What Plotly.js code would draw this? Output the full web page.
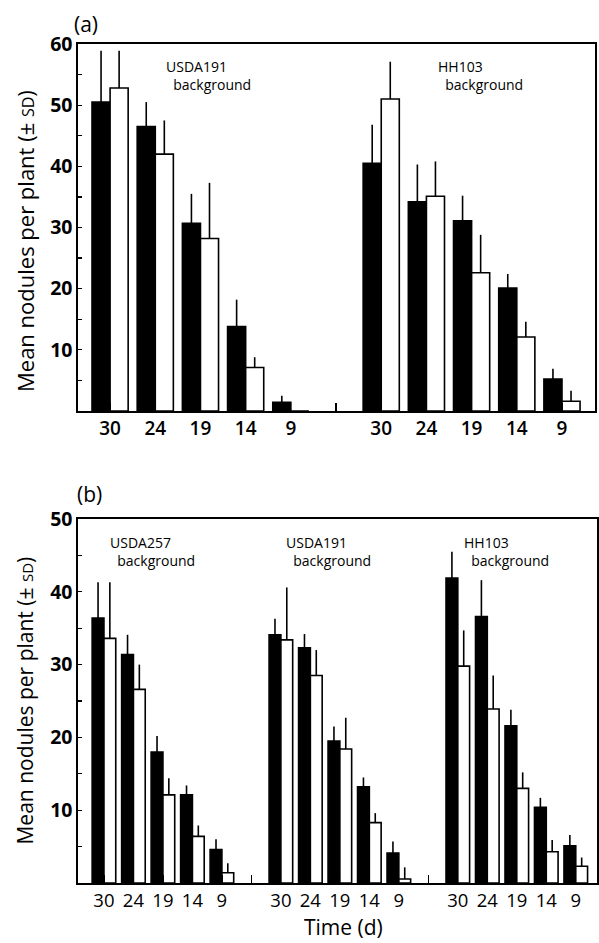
<!DOCTYPE html>
<html>
<head>
<meta charset="utf-8">
<script src="https://cdn.plot.ly/plotly-3.0.1.min.js"></script>
<style>html,body{margin:0;padding:0;background:#fff}</style>
</head>
<body>
<div id="chart" style="width:599px;height:943px"></div>
<script>
// ---- data ----
const times = [30, 24, 19, 14, 9];

// Panel (a)
const groupsA = ['USDA191', 'HH103'];
const aUSDA191Black   = [50.5, 46.5, 30.7, 13.8, 1.4];
const aUSDA191BlackSD = [8.4, 4.0, 4.8, 4.4, 1.1];
const aUSDA191White   = [52.8, 42.0, 28.2, 7.1, 0];
const aUSDA191WhiteSD = [6.1, 5.5, 9.1, 1.7, 0];
const aHH103Black     = [40.5, 34.2, 31.1, 20.1, 5.2];
const aHH103BlackSD   = [6.3, 6.1, 4.1, 2.3, 1.7];
const aHH103White     = [51.0, 35.1, 22.6, 12.1, 1.6];
const aHH103WhiteSD   = [6.1, 5.7, 6.2, 2.5, 1.7];

// Panel (b)
const groupsB = ['USDA257', 'USDA191', 'HH103'];
const bUSDA257Black   = [36.4, 31.4, 18.0, 12.1, 4.6];
const bUSDA257BlackSD = [4.9, 2.7, 2.2, 1.3, 1.4];
const bUSDA257White   = [33.6, 26.6, 12.1, 6.4, 1.4];
const bUSDA257WhiteSD = [7.7, 3.4, 2.3, 1.5, 1.3];
const bUSDA191Black   = [34.1, 32.3, 19.5, 13.2, 4.1];
const bUSDA191BlackSD = [2.2, 1.9, 2.0, 1.3, 1.6];
const bUSDA191White   = [33.4, 28.5, 18.4, 8.3, 0.55];
const bUSDA191WhiteSD = [7.2, 3.5, 4.3, 1.3, 1.6];
const bHH103Black     = [41.9, 36.6, 21.6, 10.4, 5.1];
const bHH103BlackSD   = [3.6, 5.0, 2.2, 1.3, 1.5];
const bHH103White     = [29.8, 23.9, 13.0, 4.3, 2.3];
const bHH103WhiteSD   = [4.9, 4.6, 2.2, 1.6, 1.2];

// ---- build ----
const FONT = 'Open Sans, Noto Sans, sans-serif';
const slotsPerGroup = times.length + 1;

function positions(nGroups) {
  const xs = [];
  for (let g = 0; g < nGroups; g++) times.forEach((t, i) => xs.push(g * slotsPerGroup + i));
  return xs;
}
function tickSet(nGroups) {
  const vals = [], text = [];
  for (let g = 0; g < nGroups; g++) {
    times.forEach((t, i) => { vals.push(g * slotsPerGroup + i); text.push(String(t)); });
    if (g < nGroups - 1) { vals.push(g * slotsPerGroup + times.length); text.push(''); }
  }
  return {vals, text};
}
function barTrace(xs, ys, sds, dark, xa, ya) {
  return {
    type: 'bar', x: xs, y: ys, xaxis: xa, yaxis: ya,
    width: 0.4, offset: dark ? -0.4 : 0,
    marker: {color: dark ? '#000' : '#fff', line: {color: '#000', width: 1.6}},
    error_y: {type: 'data', symmetric: false, array: sds, arrayminus: sds.map(() => 0),
              width: 0, thickness: 1.6, color: '#000'},
    showlegend: false, hoverinfo: 'skip'
  };
}

const xsA = positions(groupsA.length);
const xsB = positions(groupsB.length);
const data = [
  barTrace(xsA, aUSDA191Black.concat(aHH103Black), aUSDA191BlackSD.concat(aHH103BlackSD), true, 'x', 'y'),
  barTrace(xsA, aUSDA191White.concat(aHH103White), aUSDA191WhiteSD.concat(aHH103WhiteSD), false, 'x', 'y'),
  barTrace(xsB, bUSDA257Black.concat(bUSDA191Black, bHH103Black), bUSDA257BlackSD.concat(bUSDA191BlackSD, bHH103BlackSD), true, 'x2', 'y2'),
  barTrace(xsB, bUSDA257White.concat(bUSDA191White, bHH103White), bUSDA257WhiteSD.concat(bUSDA191WhiteSD, bHH103WhiteSD), false, 'x2', 'y2')
];

const ticksA = tickSet(groupsA.length);
const ticksB = tickSet(groupsB.length);

const axisCommon = {showline: true, linecolor: '#000', linewidth: 1.6, mirror: true,
                    showgrid: false, zeroline: false, fixedrange: true};

function yTitle(sdSize) {
  return 'Mean nodules per plant (± <span style="font-size:' + sdSize + 'px">SD</span>)';
}
const NB = '\u00A0';

function ann(text, x, y, size, extra) {
  return Object.assign({text, x, y, xref: 'paper', yref: 'paper', showarrow: false,
    xanchor: 'left', yanchor: 'middle', align: 'left', font: {family: FONT, size, color: '#000'}}, extra || {});
}
function groupLabel(name, x, y) {
  return ann(name + '<br>' + NB + NB + 'background', x, y, 14);
}

const layout = {
  width: 599, height: 943,
  margin: {l: 78, r: 2, t: 44, b: 60, autoexpand: false},
  paper_bgcolor: '#fff', plot_bgcolor: '#fff',
  font: {family: FONT, color: '#000'},
  barmode: 'overlay',
  xaxis: Object.assign({}, axisCommon, {
    domain: [0, 0.9961], anchor: 'y', range: [-0.71, 10.73],
    tickmode: 'array', tickvals: ticksA.vals, ticktext: ticksA.text,
    ticks: 'inside', ticklen: 8, tickwidth: 1.2, tickcolor: '#000',
    tickfont: {family: FONT, size: 19, weight: 600, color: '#000'}
  }),
  yaxis: Object.assign({}, axisCommon, {
    domain: [0.5626, 1], anchor: 'x', range: [0, 60],
    tickmode: 'array', tickvals: [10, 20, 30, 40, 50, 60],
    ticks: 'inside', ticklen: 4, tickwidth: 1.2, tickcolor: '#000',
    minor: {tickvals: [5, 15, 25, 35, 45, 55], ticks: 'inside', ticklen: 4, tickwidth: 1.2, tickcolor: '#000'},
    tickfont: {family: FONT, size: 19.5, weight: 'bold', color: '#000'}
  }),
  xaxis2: Object.assign({}, axisCommon, {
    domain: [0, 1], anchor: 'y2', range: [-0.88, 16.72],
    tickmode: 'array', tickvals: ticksB.vals, ticktext: ticksB.text,
    ticks: 'inside', ticklen: 8, tickwidth: 1.2, tickcolor: '#000',
    tickfont: {family: FONT, size: 18.5, color: '#000'}
  }),
  yaxis2: Object.assign({}, axisCommon, {
    domain: [0, 0.4338], anchor: 'x2', range: [0, 50],
    tickmode: 'array', tickvals: [10, 20, 30, 40, 50],
    ticks: 'inside', ticklen: 4, tickwidth: 1.2, tickcolor: '#000',
    minor: {tickvals: [5, 15, 25, 35, 45], ticks: 'inside', ticklen: 4, tickwidth: 1.2, tickcolor: '#000'},
    tickfont: {family: FONT, size: 19.5, weight: 'bold', color: '#000'}
  }),
  annotations: [
    ann('(a)', -0.012, 1.024, 21),
    ann('(b)', -0.006, 0.4636, 21),
    groupLabel(groupsA[0], 0.1656, 0.9630),
    groupLabel(groupsA[1], 0.6897, 0.9625),
    groupLabel(groupsB[0], 0.0577, 0.3952),
    groupLabel(groupsB[1], 0.3968, 0.3952),
    groupLabel(groupsB[2], 0.7398, 0.3952),
    ann(yTitle(16), -0.1021, 0.7652, 22, {textangle: -90, xanchor: 'center'}),
    ann(yTitle(15), -0.1021, 0.2175, 21, {textangle: -90, xanchor: 'center'}),
    ann('Time (d)', 0.5125, -0.0525, 21, {xanchor: 'center'})
  ]
};

Plotly.newPlot('chart', data, layout, {displayModeBar: false, staticPlot: true});
</script>
</body>
</html>
